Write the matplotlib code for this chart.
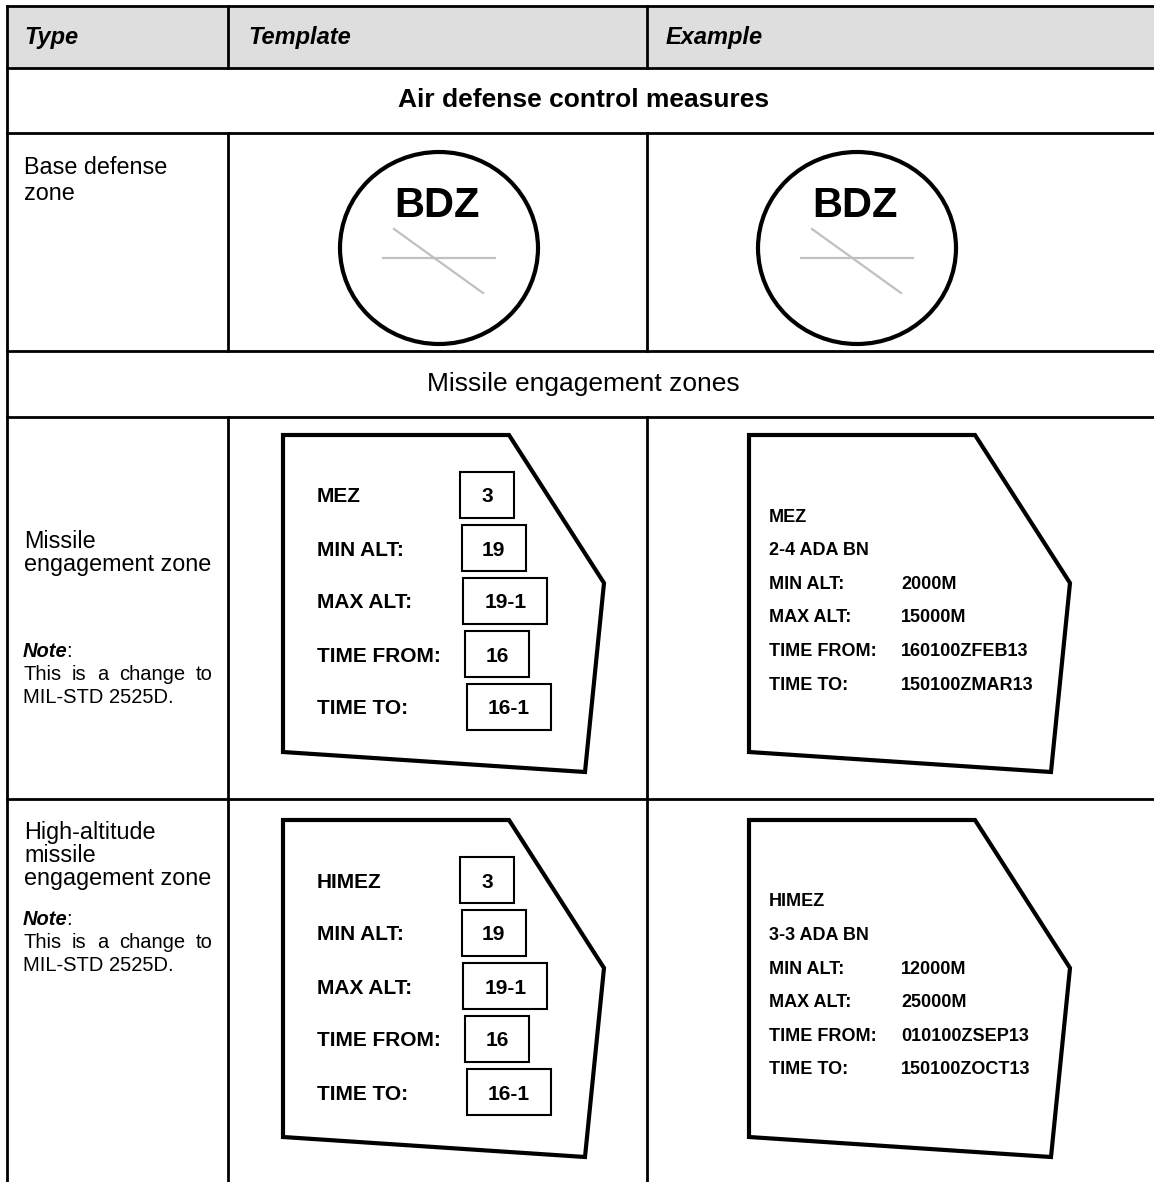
import matplotlib.pyplot as plt
from matplotlib.patches import Ellipse, Polygon, Rectangle

plt.rcParams['font.family'] = ['Liberation Sans', 'DejaVu Sans']

# table text
headers = ['Type', 'Template', 'Example']
sections = ['Air defense control measures', 'Missile engagement zones']
bdz_type = ['Base defense', 'zone']
mez_type = ['Missile', 'engagement zone']
himez_type = ['High-altitude', 'missile', 'engagement zone']
note_lines = ['This is a change to', 'MIL-STD 2525D.']
bdz_label = 'BDZ'

# template / example fields
field_names = ['MIN ALT:', 'MAX ALT:', 'TIME FROM:', 'TIME TO:']
zone_code = '3'
field_codes = ['19', '19-1', '16', '16-1']
mez_unit = '2-4 ADA BN'
mez_values = ['2000M', '15000M', '160100ZFEB13', '150100ZMAR13']
himez_unit = '3-3 ADA BN'
himez_values = ['12000M', '25000M', '010100ZSEP13', '150100ZOCT13']

# layout (pixels)
W, H = 1154, 1182
col_x = [7, 228, 647]
row_y = [6, 68, 133, 351, 417, 799]
LW = 2.0

fig = plt.figure(figsize=(W / 100, H / 100), dpi=100)
ax = fig.add_axes([0, 0, 1, 1])
ax.set_xlim(0, W)
ax.set_ylim(H, 0)
ax.axis('off')
renderer = fig.canvas.get_renderer()

# grid
ax.add_patch(Rectangle((col_x[0], row_y[0]), W - col_x[0], row_y[1] - row_y[0],
                       facecolor='#dedede', edgecolor='none'))
for y in row_y:
    ax.plot([col_x[0], W], [y, y], color='black', lw=LW, solid_capstyle='projecting')
ax.plot([col_x[0], col_x[0]], [row_y[0], H], color='black', lw=LW)
for x in col_x[1:]:
    for y0, y1 in [(row_y[0], row_y[1]), (row_y[2], row_y[3]), (row_y[4], H)]:
        ax.plot([x, x], [y0, y1], color='black', lw=LW)

# header
for x, t in zip([24, 248, 666], headers):
    ax.text(x, 44, t, fontsize=17, fontweight='bold', fontstyle='italic', va='baseline')
ax.text(584, 107, sections[0], fontsize=19, fontweight='bold', ha='center', va='baseline')
ax.text(583, 391, sections[1], fontsize=19, ha='center', va='baseline')


def type_cell(lines, y0, step=23):
    for i, t in enumerate(lines):
        ax.text(24, y0 + i * step, t, fontsize=16.8, va='baseline')


def justified(text, x0, x1, y, size):
    words = text.split()
    items = [ax.text(0, y, w, fontsize=size, va='baseline') for w in words]
    widths = [t.get_window_extent(renderer).width for t in items]
    gap = (x1 - x0 - sum(widths)) / (len(words) - 1)
    x = x0
    for t, w in zip(items, widths):
        t.set_x(x)
        x += w + gap


def note(y0):
    ax.text(23, y0, 'Note', fontsize=14.5, fontweight='bold', fontstyle='italic',
            va='baseline')
    ax.text(66, y0, ':', fontsize=14.5, va='baseline')
    justified(note_lines[0], 23, 213, y0 + 23, 14.5)
    ax.text(23, y0 + 46, note_lines[1], fontsize=14.5, va='baseline')


type_cell(bdz_type, 174, step=26)
type_cell(mez_type, 548)
note(657)
type_cell(himez_type, 839)
note(925)

# base defense zone circles
for cx in [439, 857]:
    cy = 248
    ax.add_patch(Ellipse((cx, cy), 198, 192, fill=False, edgecolor='black', lw=3))
    ax.text(cx - 2, 217, bdz_label, fontsize=30, fontweight='bold', ha='center', va='baseline')
    ax.plot([cx - 56, cx + 56], [258, 258], color='#c0c0c0', lw=1.6)
    ax.plot([cx - 45, cx + 44], [229, 293], color='#c0c0c0', lw=1.6)

# zone outline shape
shape = [(0, 0), (226, 0), (321, 148), (302, 337), (0, 317)]


def outline(x0, y0):
    pts = [(x0 + dx, y0 + dy) for dx, dy in shape]
    ax.add_patch(Polygon(pts, closed=True, fill=False, edgecolor='black', lw=3,
                         joinstyle='miter'))


box_w = {1: 54, 2: 64, 4: 84}


def template(x0, y0, name):
    outline(x0, y0)
    labels = [name] + field_names
    codes = [zone_code] + field_codes
    for k, (lab, code) in enumerate(zip(labels, codes)):
        yc = y0 + 60 + k * 53
        ax.text(x0 + 34, yc + 7.5, lab, fontsize=15, fontweight='bold', va='baseline')
        bx = x0 + 177 + 1.7 * k
        bw = box_w[len(code)]
        ax.add_patch(Rectangle((bx, yc - 23), bw, 46, fill=False, edgecolor='black', lw=1.5))
        ax.text(bx + bw / 2, yc + 7.5, code, fontsize=15, fontweight='bold',
                ha='center', va='baseline')


def example(x0, y0, name, unit, values):
    outline(x0, y0)
    ys = [y0 + 80 + k * 33.6 for k in range(6)]
    ax.text(x0 + 20, ys[0] + 6.5, name, fontsize=13, fontweight='bold', va='baseline')
    ax.text(x0 + 20, ys[1] + 6.5, unit, fontsize=13, fontweight='bold', va='baseline')
    for k, (lab, val) in enumerate(zip(field_names, values)):
        ax.text(x0 + 20, ys[k + 2] + 6.5, lab, fontsize=13, fontweight='bold', va='baseline')
        ax.text(x0 + 152, ys[k + 2] + 6.5, val, fontsize=13, fontweight='bold', va='baseline')


template(283, 435, 'MEZ')
template(283, 820, 'HIMEZ')
example(749, 435, 'MEZ', mez_unit, mez_values)
example(749, 820, 'HIMEZ', himez_unit, himez_values)

fig.savefig('out.png', dpi=100)
